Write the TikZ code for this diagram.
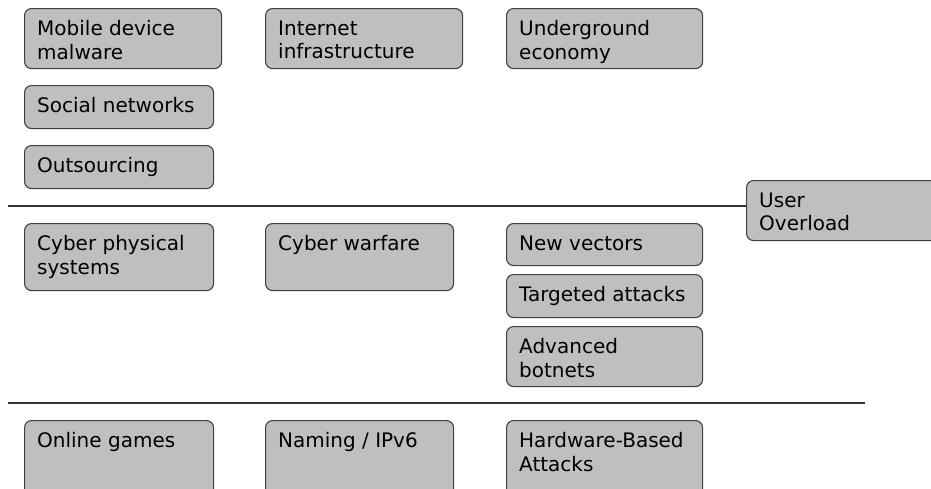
\documentclass[tikz,border=0pt]{standalone}
\usepackage{fontspec}
\setmainfont{DejaVu Sans}
\begin{document}
\begin{tikzpicture}[x=1pt,y=-1pt,
  box/.style={draw=black!75, fill=black!25, line width=1.1pt, rounded corners=7pt,
    anchor=north west, inner sep=0pt},
  txt/.style={anchor=north west, inner sep=0pt, align=left,
    font=\fontsize{20}{23.5}\selectfont, execute at begin node={\vphantom{l}}},
  rule/.style={draw=black!80, line width=1.1pt}]
\useasboundingbox (0,0) rectangle (931,488);
\clip (0,0) rectangle (931,488);

% column 1
\node[box, minimum width=197pt, minimum height=60pt] (mdm) at (24,8) {};
\node[box, minimum width=189pt, minimum height=43pt] (soc) at (24,85) {};
\node[box, minimum width=189pt, minimum height=43pt] (out) at (24,145) {};
\node[box, minimum width=189pt, minimum height=67pt] (cps) at (24,223) {};
\node[box, minimum width=189pt, minimum height=80pt] (onl) at (24,420) {};
% column 2
\node[box, minimum width=197pt, minimum height=60pt] (inf) at (265,8) {};
\node[box, minimum width=188pt, minimum height=67pt] (war) at (265,223) {};
\node[box, minimum width=188pt, minimum height=80pt] (nam) at (265,420) {};
% column 3
\node[box, minimum width=196pt, minimum height=60pt] (und) at (506,8) {};
\node[box, minimum width=196pt, minimum height=42pt] (vec) at (506,223) {};
\node[box, minimum width=196pt, minimum height=43pt] (tgt) at (506,274) {};
\node[box, minimum width=196pt, minimum height=60pt] (bot) at (506,326) {};
\node[box, minimum width=196pt, minimum height=80pt] (hw) at (506,420) {};
% side box
\node[box, minimum width=220pt, minimum height=60pt] (usr) at (746,180) {};

% labels, set from the top left corner of each box
\foreach \b/\t in {mdm/{Mobile device\\malware}, soc/{Social networks}, out/{Outsourcing},
  cps/{Cyber physical\\systems}, onl/{Online games}, inf/{Internet\\infrastructure},
  war/{Cyber warfare}, nam/{Naming / IPv6}, und/{Underground\\economy},
  vec/{New vectors}, tgt/{Targeted attacks}, bot/{Advanced\\botnets},
  hw/{Hardware-Based\\Attacks}, usr/{User\\Overload}}
  \node[txt] (\b-t) at ([shift={(13pt,-12.5pt)}]\b.north west) {\t};

% separators
\coordinate (r1s) at (8,206);
\coordinate (r2s) at (8,403);
\coordinate (r2e) at (865,403);
\draw[rule] (r1s) -- (r1s -| usr.west);
\draw[rule] (r2s) -- (r2e);
\end{tikzpicture}
\end{document}
